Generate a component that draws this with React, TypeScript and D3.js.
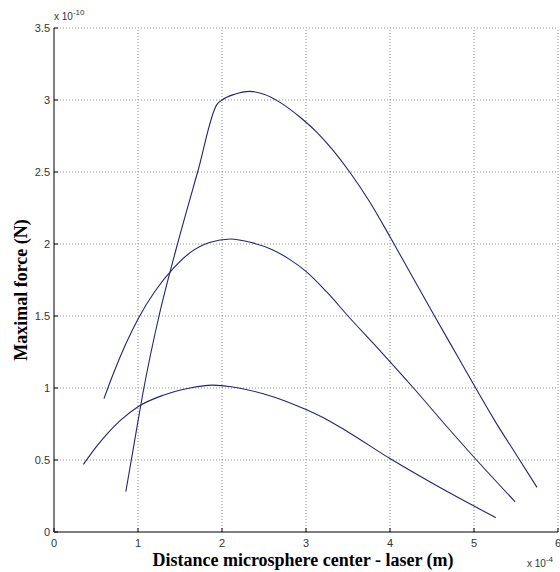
import React from "react";
import * as d3 from "d3";

const xTicks = [0, 1, 2, 3, 4, 5, 6];
const yTicks = [0, 0.5, 1, 1.5, 2, 2.5, 3, 3.5];
const yTickLabels = ["0", "0.5", "1", "1.5", "2", "2.5", "3", "3.5"];

// x in 1e-4 m, y in 1e-10 N
const curveA: [number, number][] = [
  [0.855, 0.28], [0.95, 0.6], [1.07, 1.0], [1.25, 1.5], [1.47, 2.0],
  [1.71, 2.5], [1.94, 2.97], [2.0, 3.0], [2.15, 3.04], [2.33, 3.06], [2.5, 3.04],
  [2.7, 2.98], [2.93, 2.88], [3.13, 2.775], [3.33, 2.645], [3.52, 2.5], [3.75, 2.3],
  [4.0, 2.05], [4.25, 1.79], [4.54, 1.49], [4.78, 1.245], [5.03, 0.99],
  [5.25, 0.77], [5.5, 0.54], [5.75, 0.31],
];
const curveB: [number, number][] = [
  [0.595, 0.926], [0.7, 1.09], [0.85, 1.3], [1.01, 1.49], [1.2, 1.67], [1.42, 1.83],
  [1.62, 1.94], [1.85, 2.01], [2.1, 2.035], [2.35, 2.01], [2.6, 1.96], [2.8, 1.895],
  [3.0, 1.81], [3.25, 1.665], [3.5, 1.5], [3.88, 1.26], [4.28, 1.0], [4.65, 0.75],
  [5.03, 0.5], [5.49, 0.21],
];
const curveC: [number, number][] = [
  [0.35, 0.47], [0.5, 0.59], [0.63, 0.68], [0.8, 0.78], [1.0, 0.87], [1.3, 0.95],
  [1.62, 1.0], [1.88, 1.02], [2.2, 1.0], [2.49, 0.96], [2.75, 0.91], [3.0, 0.85],
  [3.25, 0.78], [3.5, 0.695], [4.0, 0.51], [4.5, 0.34], [5.0, 0.18], [5.26, 0.1],
];
const series = [curveA, curveB, curveC];

const W = 560, H = 572;
const L = 54, R = 558, T = 28, B = 532;

export default function App() {
  const x = d3.scaleLinear().domain([0, 6]).range([L, R]);
  const y = d3.scaleLinear().domain([0, 3.5]).range([B, T]);
  const line = d3.line<[number, number]>().x(d => x(d[0])).y(d => y(d[1])).curve(d3.curveMonotoneX);
  const tickFont = "'Liberation Sans', Arial, sans-serif";
  return (
    <svg width={W} height={H} style={{ position: "absolute", left: 0, top: 0, background: "#fff" }}>
      {/* grid */}
      {xTicks.slice(1).map(t => (
        <line key={"gx" + t} x1={x(t)} x2={x(t)} y1={B} y2={T} stroke="#909090" strokeWidth={1} strokeDasharray="1,2" />
      ))}
      {yTicks.slice(1).map(t => (
        <line key={"gy" + t} x1={L} x2={R} y1={y(t)} y2={y(t)} stroke="#909090" strokeWidth={1} strokeDasharray="1,2" />
      ))}
      {/* curves */}
      {series.map((s, i) => (
        <path key={i} d={line(s) || ""} fill="none" stroke="#23237a" strokeWidth={1.1} />
      ))}
      {/* axes */}
      <line x1={L} x2={L} y1={T} y2={B} stroke="#000" strokeWidth={1} />
      <line x1={L} x2={R} y1={B} y2={B} stroke="#000" strokeWidth={1} />
      {xTicks.map(t => (
        <g key={"xt" + t}>
          <line x1={x(t)} x2={x(t)} y1={B} y2={B - 4} stroke="#000" />
          <text x={x(t)} y={B + 15} textAnchor="middle" fontFamily={tickFont} fontSize={11} fill="#333">{t}</text>
        </g>
      ))}
      {yTicks.map((t, i) => (
        <g key={"yt" + t}>
          <line x1={L} x2={L + 4} y1={y(t)} y2={y(t)} stroke="#000" />
          <text x={L - 4} y={y(t) + 4} textAnchor="end" fontFamily={tickFont} fontSize={11} fill="#333">{yTickLabels[i]}</text>
        </g>
      ))}
      {/* exponents */}
      <text x={54} y={20} fontFamily={tickFont} fontSize={10} fill="#333">
        x 10<tspan dy={-5} fontSize={8}>-10</tspan>
      </text>
      <text x={527} y={567} fontFamily={tickFont} fontSize={10} fill="#333">
        x 10<tspan dy={-5} fontSize={8}>-4</tspan>
      </text>
      {/* labels */}
      <text x={303} y={566} textAnchor="middle" fontFamily="'Liberation Serif', 'Times New Roman', serif" fontWeight="bold" fontSize={18} fill="#000">
        Distance microsphere center - laser (m)
      </text>
      <text transform={`translate(27,${(T + B) / 2 + 10}) rotate(-90)`} textAnchor="middle" fontFamily="'Liberation Serif', 'Times New Roman', serif" fontWeight="bold" fontSize={18} fill="#000">
        Maximal force (N)
      </text>
    </svg>
  );
}
